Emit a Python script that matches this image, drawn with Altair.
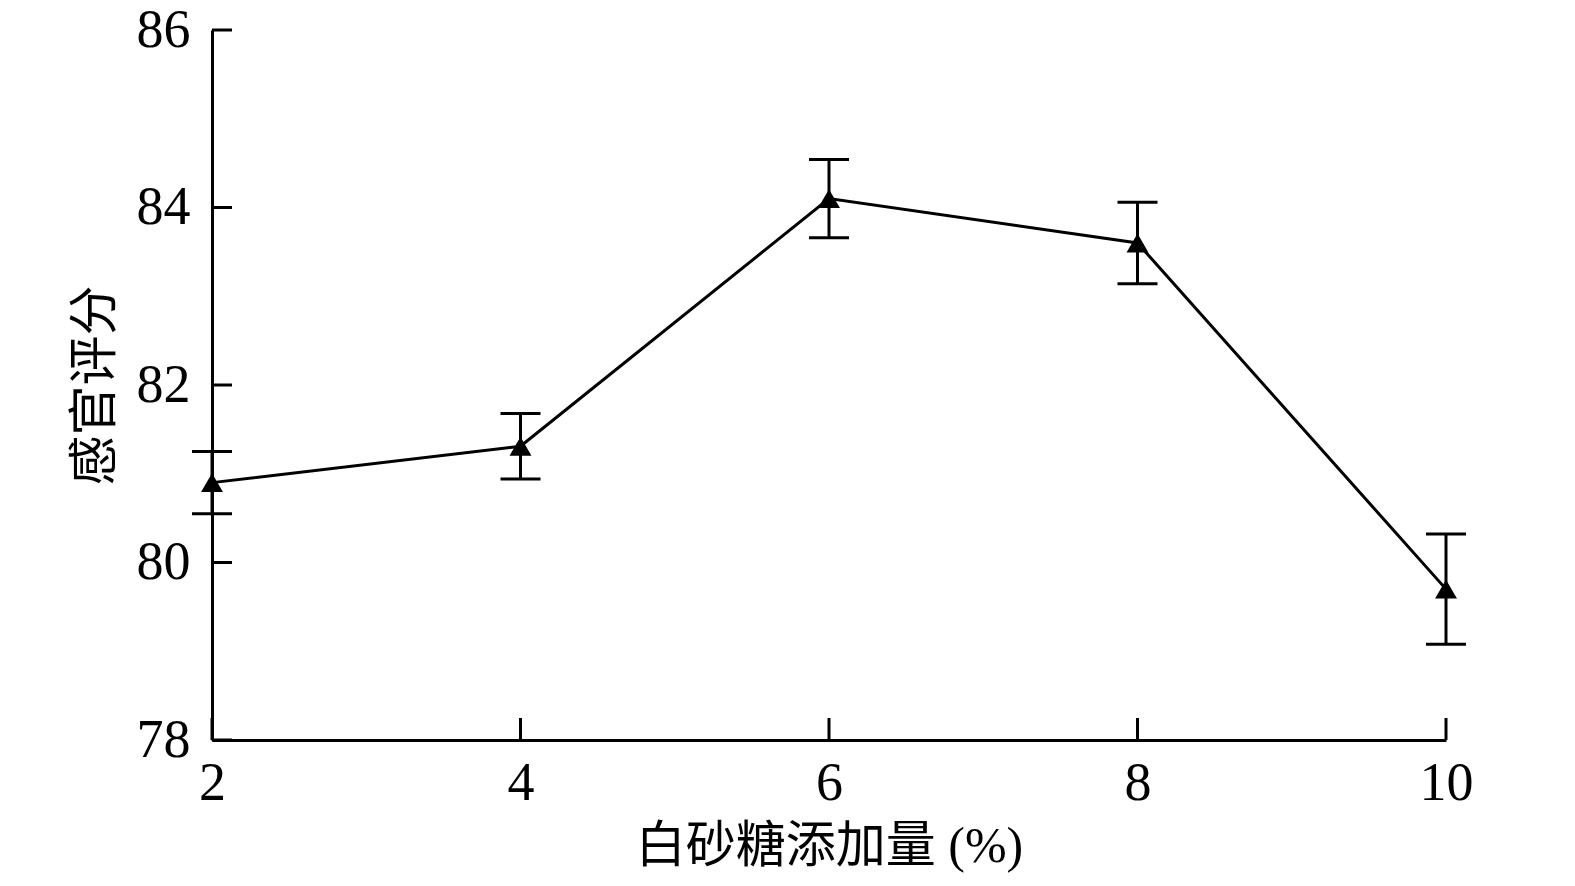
import altair as alt
import pandas as pd

sugar = [2, 4, 6, 8, 10]
score = [80.90, 81.31, 84.10, 83.60, 79.70]
err = [0.35, 0.37, 0.44, 0.46, 0.62]
x_ticks = [2, 4, 6, 8, 10]
y_ticks = [78, 80, 82, 84, 86]

df = pd.DataFrame({"x": sugar, "y": score, "e": err})
df["lo"] = df["y"] - df["e"]
df["hi"] = df["y"] + df["e"]

W, H = 1234, 710
FONT = "Liberation Serif"
CJK = "Liberation Serif, Noto Sans CJK SC"

xs = alt.Scale(domain=[2, 10], nice=False, zero=False)
ys = alt.Scale(domain=[78, 86], nice=False, zero=False)

xaxis = alt.Axis(values=x_ticks, format="d", ticks=False, grid=False, labelPadding=16,
                 labelFlush=False, labelAlign="center",
                 labelFont=FONT, labelFontSize=54, labelColor="black",
                 domainColor="black", domainWidth=3,
                 title="白砂糖添加量 (%)", titleFont=CJK, titleFontSize=50,
                 titleFontWeight="normal", titleColor="black",
                 titleY=106, titleBaseline="middle")
yaxis = alt.Axis(values=y_ticks, format="d", ticks=False, grid=False, labelPadding=22,
                 labelFlush=False,
                 labelFont=FONT, labelFontSize=54, labelColor="black",
                 domainColor="black", domainWidth=3,
                 title="感官评分", titleFont=CJK, titleFontSize=50,
                 titleFontWeight="normal", titleColor="black",
                 titleAngle=-90, titleX=-117, titleY=H / 2,
                 titleAlign="center", titleBaseline="middle")

base = alt.Chart(df)

line = base.mark_line(color="black", strokeWidth=3).encode(
    x=alt.X("x:Q", scale=xs, axis=xaxis),
    y=alt.Y("y:Q", scale=ys, axis=yaxis),
)
bars = base.mark_rule(color="black", strokeWidth=3).encode(
    x=alt.X("x:Q", scale=xs), y=alt.Y("lo:Q", scale=ys), y2="hi:Q"
)
cap_lo = base.mark_tick(color="black", thickness=3, size=40, orient="horizontal", opacity=1).encode(
    x=alt.X("x:Q", scale=xs), y=alt.Y("lo:Q", scale=ys)
)
cap_hi = base.mark_tick(color="black", thickness=3, size=40, orient="horizontal", opacity=1).encode(
    x=alt.X("x:Q", scale=xs), y=alt.Y("hi:Q", scale=ys)
)
pts = base.mark_point(shape="triangle-up", filled=True, color="black", size=480, opacity=1).encode(
    x=alt.X("x:Q", scale=xs), y=alt.Y("y:Q", scale=ys)
)

yt = alt.Chart(pd.DataFrame({"t": y_ticks})).mark_rule(color="black", strokeWidth=3).encode(
    y=alt.Y("t:Q", scale=ys), x=alt.value(0), x2=alt.value(20)
)
xt = alt.Chart(pd.DataFrame({"t": x_ticks})).mark_rule(color="black", strokeWidth=3).encode(
    x=alt.X("t:Q", scale=xs), y=alt.value(H), y2=alt.value(H - 22)
)

chart = alt.layer(line, bars, cap_lo, cap_hi, pts, yt, xt).properties(
    width=W, height=H,
    autosize=alt.AutoSizeParams(type="none"),
    padding={"left": 204, "top": 22, "right": 121, "bottom": 136},
    background="white",
).configure_view(stroke="transparent", strokeWidth=0)

chart.save("out.html", embed_options={"renderer": "svg", "actions": False})
